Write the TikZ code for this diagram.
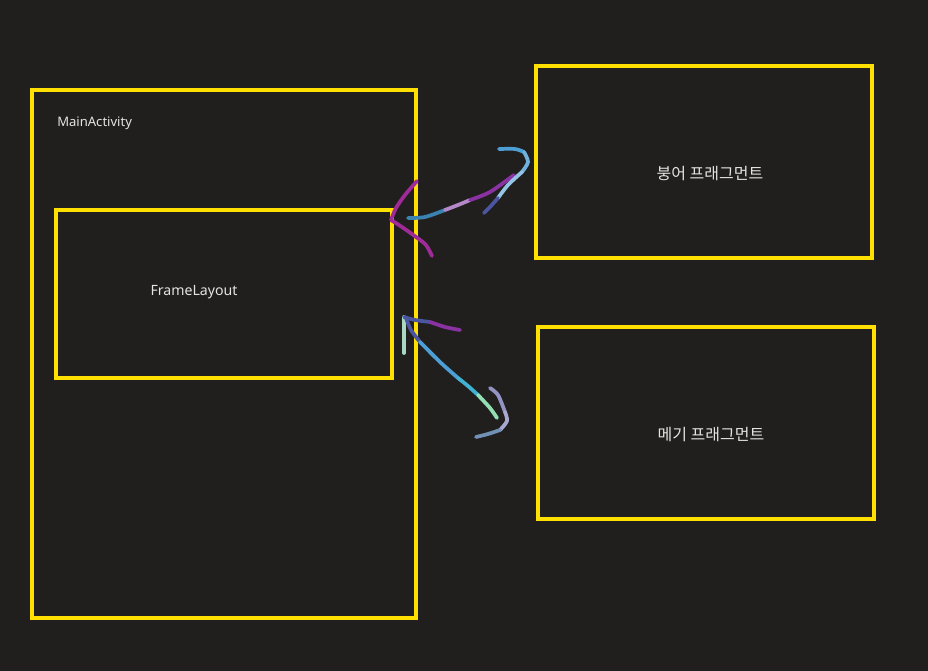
\documentclass[tikz,border=0pt]{standalone}
\usepackage{fontspec}
\setmainfont{Noto Sans}
\newfontfamily\kr{Noto Sans CJK KR}
\usepackage{xcolor}
\usetikzlibrary{positioning}
\definecolor{bg}{HTML}{201F1E}
\definecolor{frameyel}{HTML}{FFE000}
\definecolor{txt}{HTML}{E4E4E4}
\definecolor{mag}{HTML}{A02A98}
\definecolor{pur}{HTML}{8A32A2}
\definecolor{lav}{HTML}{B488C8}
\definecolor{dblu}{HTML}{4A56A0}
\definecolor{teal}{HTML}{3A82B0}
\definecolor{sky}{HTML}{4C9ED4}
\definecolor{cyan2}{HTML}{40B2D2}
\definecolor{mint}{HTML}{94DEB4}
\definecolor{pale}{HTML}{A8D8C4}
\definecolor{lilac}{HTML}{9494C4}
\definecolor{slate}{HTML}{7090B4}
\tikzset{
  box/.style={draw=frameyel, line width=2.6pt, inner sep=0pt},
  lbl/.style={text=txt, inner sep=0pt},
  ink/.style={line width=2.8pt, line cap=round, line join=round},
}
\begin{document}
\begin{tikzpicture}[x=0.75pt, y=-0.75pt]
  \useasboundingbox[fill=bg] (0,0) rectangle (928,671);
  % boxes
  \node[box, minimum width=288pt, minimum height=396pt] (main) at (224,354) {};
  \node[box, minimum width=252pt, minimum height=126pt] (frame) at (224,294) {};
  \node[box, minimum width=252pt, minimum height=144pt] (bungeo) at (704,162) {};
  \node[box, minimum width=252pt, minimum height=144pt] (megi) at (706,423) {};
  % labels
  \node[lbl, anchor=west, font=\fontsize{9.8}{12}\selectfont] (mainlbl) at (57,123) {MainActivity};
  \node[lbl, font=\fontsize{10.6}{13}\selectfont] (framelbl) at (194,292) {FrameLayout};
  \node[lbl, font=\kr\fontsize{12}{14}\selectfont] (bungeolbl) at (710,174) {붕어 프래그먼트};
  \node[lbl, font=\kr\fontsize{12}{14}\selectfont] (megilbl) at (711,435) {메기 프래그먼트};
  % hand drawn arrow: frame <-> bungeo
  \coordinate (tipA) at (391,220);
  \coordinate (tipB) at (524,152);
  \draw[ink, mag] plot[smooth] coordinates {(417,181) (405,195) (396,208) (tipA)};
  \draw[ink, mag] plot[smooth] coordinates {(tipA) (402,227) (416,237) (426,245) (432,256)};
  \draw[ink, teal] plot[smooth] coordinates {(408,218) (425,217) (445,210)};
  \draw[ink, lav] plot[smooth] coordinates {(445,210) (458,205) (470,200)};
  \draw[ink, pur] plot[smooth] coordinates {(470,200) (490,192) (514,175)};
  \draw[ink, sky] plot[smooth] coordinates {(499,149) (515,149) (tipB)};
  \draw[ink, sky!80!white] plot[smooth] coordinates {(tipB) (528,162) (522,172)};
  \draw[ink, sky!60!white] plot[smooth] coordinates {(522,172) (508,185) (498,198)};
  \draw[ink, dblu] plot[smooth] coordinates {(498,198) (490,207) (484,213)};
  % hand drawn arrow: frame <-> megi
  \coordinate (tipC) at (404,317);
  \coordinate (tipD) at (505,412);
  \draw[ink, pale] plot[smooth] coordinates {(tipC) (404,335) (404,353)};
  \draw[ink, dblu] plot[smooth] coordinates {(tipC) (415,320) (430,322)};
  \draw[ink, pur] plot[smooth] coordinates {(430,322) (445,327) (460,330)};
  \draw[ink, dblu] plot[smooth] coordinates {(406,318) (411,330) (420,342)};
  \draw[ink, sky] plot[smooth] coordinates {(420,342) (440,362) (458,378)};
  \draw[ink, cyan2] plot[smooth] coordinates {(458,378) (468,386) (478,395)};
  \draw[ink, mint] plot[smooth] coordinates {(478,395) (490,408) (497,418)};
  \draw[ink, lilac] plot[smooth] coordinates {(490,388) (498,395) (tipD)};
  \draw[ink, lilac!80!white] plot[smooth] coordinates {(tipD) (507,421) (500,430)};
  \draw[ink, slate] plot[smooth] coordinates {(500,430) (488,434) (476,437)};
\end{tikzpicture}
\end{document}
